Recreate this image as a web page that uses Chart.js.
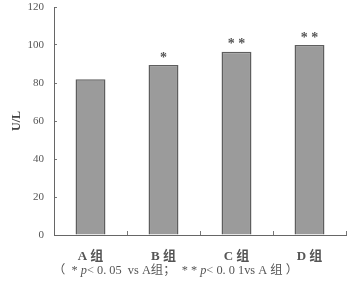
<!DOCTYPE html>
<html lang="zh">
<head>
  <meta charset="UTF-8" />
  <title>U/L by group</title>
  <script src="https://cdn.jsdelivr.net/npm/chart.js"></script>
  <style>
    body {
      margin: 0;
      background: #fff;
    }
    #wrap {
      width: 361px;
      height: 283px;
      position: relative;
    }
  </style>
</head>
<body>

<div id="wrap"><canvas id="chart"></canvas></div>

<script>
  const groups = ["A 组", "B 组", "C 组", "D 组"];
  const values = [82, 89.5, 96.5, 100];
  const marks = ["", "*", "**", "**"];
  const yTicks = [0, 20, 40, 60, 80, 100, 120];

  const serif = '"Liberation Serif", "Noto Sans CJK SC", serif';

  // significance stars above bars + footnote line
  const notes = {
    id: "notes",
    afterDatasetsDraw(chart) {
      const ctx = chart.ctx;
      const meta = chart.getDatasetMeta(0);
      ctx.save();
      ctx.fillStyle = "#555";
      ctx.font = "bold 14px " + serif;
      ctx.textAlign = "center";
      ctx.textBaseline = "middle";
      meta.data.forEach((bar, i) => {
        if (marks[i]) ctx.fillText(marks[i].split("").join(" "), bar.x, bar.y - 7);
      });

      // footnote, stretched to the width it has in the original
      const parts = [
        ["（  ", "normal"], ["* ", "normal"], ["p", "italic"], ["< 0. 05  vs A组；  * * ", "normal"],
        ["p", "italic"], ["< 0. 0 1vs A 组 ）", "normal"]
      ];
      let total = 0;
      parts.forEach(([t, st]) => {
        ctx.font = (st === "italic" ? "italic " : "") + "12px " + serif;
        total += ctx.measureText(t).width;
      });
      const left = 53, width = 245;
      ctx.translate(left, 271);
      ctx.scale(width / total, 1);
      ctx.textAlign = "left";
      let x = 0;
      parts.forEach(([t, st]) => {
        ctx.font = (st === "italic" ? "italic " : "") + "12px " + serif;
        ctx.fillText(t, x, 0);
        x += ctx.measureText(t).width;
      });
      ctx.restore();
    }
  };

  new Chart(document.getElementById("chart"), {
    type: "bar",
    data: {
      labels: groups,
      datasets: [{
        data: values,
        backgroundColor: "#9b9b9b",
        borderColor: "#5e5e5e",
        borderWidth: 1.5,
        categoryPercentage: 1,
        barPercentage: 0.41
      }]
    },
    options: {
      responsive: true,
      maintainAspectRatio: false,
      animation: false,
      layout: { padding: { top: 7, right: 15, left: 0, bottom: 0 } },
      plugins: {
        legend: { display: false },
        tooltip: { enabled: false }
      },
      scales: {
        x: {
          grid: {
            display: true,
            offset: true,
            drawOnChartArea: false,
            tickLength: -4,
            color: "#777"
          },
          border: { color: "#666", width: 1 },
          ticks: {
            padding: 18,
            color: "#555",
            font: { family: serif, size: 13, weight: "bold" }
          },
          afterFit(scale) {
            scale.height = 48;
            scale.paddingLeft = 0;
            scale.paddingRight = 0;
          }
        },
        y: {
          min: 0,
          max: 120,
          afterBuildTicks(scale) { scale.ticks = yTicks.map(v => ({ value: v })); },
          grid: {
            drawOnChartArea: false,
            tickLength: -3,
            color: "#777"
          },
          border: { color: "#666", width: 1 },
          ticks: {
            padding: 13,
            color: "#555",
            font: { family: serif, size: 11 }
          },
          title: {
            display: true,
            text: "U/L",
            color: "#444",
            padding: { top: 10, bottom: 0 },
            font: { family: serif, size: 12, weight: "bold" }
          },
          afterFit(scale) {
            scale.width = 54;
            scale.paddingTop = 0;
            scale.paddingBottom = 0;
          }
        }
      }
    },
    plugins: [notes]
  });
</script>

</body>
</html>
